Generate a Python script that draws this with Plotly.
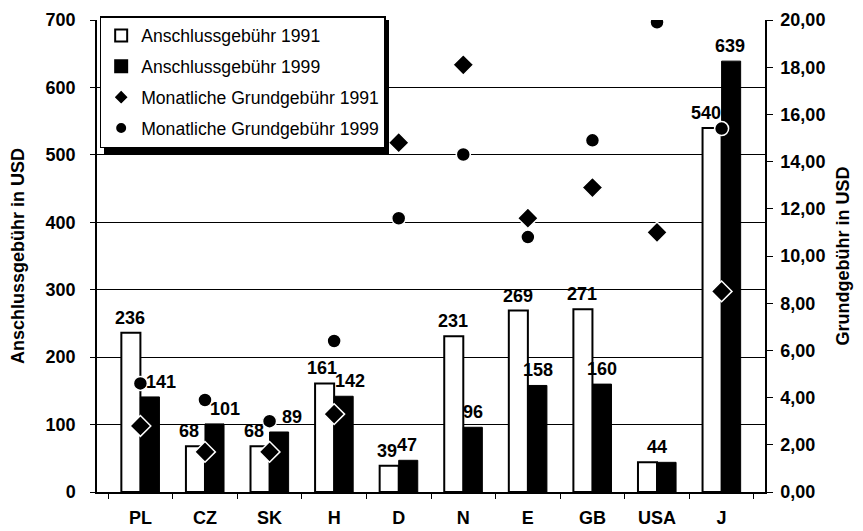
import plotly.graph_objects as go

# Data
countries = ['PL', 'CZ', 'SK', 'H', 'D', 'N', 'E', 'GB', 'USA', 'J']
anschluss_1991 = [236, 68, 68, 161, 39, 231, 269, 271, 44, 540]
anschluss_1999 = [141, 101, 89, 142, 47, 96, 158, 160, 44, 639]
labels_1991 = ['236', '68', '68', '161', '39', '231', '269', '271', '44', '540']
labels_1999 = ['141', '101', '89', '142', '47', '96', '158', '160', '', '639']
grund_1991 = [2.8, 1.7, 1.7, 3.3, 14.8, 18.1, 11.6, 12.9, 11.0, 8.5]
grund_1999 = [4.6, 3.9, 3.0, 6.4, 11.6, 14.3, 10.8, 14.9, 19.9, 15.4]

# label nudges in pixels (style only), Excel-like hand placement
shift_1991 = [-10, -16, -16, -12, -12, -10, -10, -10, 0, -16]
shift_1999 = [21, 20, 22, 16, 8, 10, 10, 10, 10, 8]

FONT = 'Arial, Liberation Sans, sans-serif'

# page body has an 8px margin, so the figure is drawn 8px smaller
W, H = 855, 523
ML, MR, MT, MB = 89, 98, 12, 39
PW, PH = W - ML - MR, H - MT - MB

fig = go.Figure()

fig.add_trace(go.Bar(
    x=countries, y=anschluss_1991,
    name='Anschlussgebühr 1991',
    marker=dict(color='white', line=dict(color='black', width=2)),
    legendgroup='a'
))
fig.add_trace(go.Bar(
    x=countries, y=anschluss_1999,
    name='Anschlussgebühr 1999',
    marker=dict(color='black', line=dict(color='black', width=1)),
    legendgroup='b'
))
fig.add_trace(go.Scatter(
    x=countries, y=grund_1991, yaxis='y2',
    mode='markers',
    name='Monatliche Grundgebühr 1991',
    marker=dict(symbol='diamond', size=16, color='black',
                line=dict(color='white', width=1.5)),
    legendgroup='c'
))
fig.add_trace(go.Scatter(
    x=countries, y=grund_1999, yaxis='y2',
    mode='markers',
    name='Monatliche Grundgebühr 1999',
    marker=dict(symbol='circle', size=14, color='black',
                line=dict(color='white', width=1.5)),
    legendgroup='d'
))

# data labels
for c, v, t, s in zip(countries, anschluss_1991, labels_1991, shift_1991):
    if t:
        fig.add_annotation(x=c, y=v, text=t, showarrow=False, xshift=s,
                           yanchor='bottom', yshift=3,
                           font=dict(size=18, family=FONT, weight='bold'))
for c, v, t, s in zip(countries, anschluss_1999, labels_1999, shift_1999):
    if t:
        fig.add_annotation(x=c, y=v, text=t, showarrow=False, xshift=s,
                           yanchor='bottom', yshift=3,
                           font=dict(size=18, family=FONT, weight='bold'))

# legend drop shadow (pixel offsets inside the plot area)
fig.add_shape(type='rect', xref='paper', yref='paper',
              x0=7 / PW, x1=292 / PW,
              y0=1 - 134 / PH, y1=1 - 0 / PH,
              fillcolor='black', line=dict(width=0), layer='above')

fig.update_layout(
    width=W, height=H,
    margin=dict(l=ML, r=MR, t=MT, b=MB, autoexpand=False),
    plot_bgcolor='white',
    paper_bgcolor='white',
    font=dict(family=FONT, size=18, color='black'),
    separators=',.',
    barmode='group',
    bargap=0.41,
    bargroupgap=0,
    showlegend=True,
    legend=dict(
        x=0.004, y=1 + 4 / PH, xanchor='left', yanchor='top',
        bgcolor='white', bordercolor='black', borderwidth=1.5,
        font=dict(size=17.6, family=FONT),
        tracegroupgap=5, traceorder='grouped',
        itemwidth=30, itemsizing='constant'
    ),
    xaxis=dict(
        automargin=False,
        showline=True, linecolor='black', linewidth=1.5,
        ticks='outside', tickson='boundaries', ticklen=5, tickcolor='black',
        ticklabelstandoff=9,
        tickfont=dict(size=18, family=FONT, weight='bold'),
        showgrid=False,
    ),
    yaxis=dict(
        automargin=False,
        range=[0, 700], dtick=100,
        showline=True, linecolor='black', linewidth=1.5,
        ticks='outside', ticklen=5, tickcolor='black',
        ticklabelstandoff=11,
        showgrid=True, gridcolor='black', gridwidth=1,
        zeroline=False,
        tickfont=dict(size=18, family=FONT, weight='bold'),
        title=dict(text='Anschlussgebühr in USD',
                   font=dict(size=18, weight='bold'), standoff=17),
    ),
    yaxis2=dict(
        automargin=False,
        range=[0, 20], dtick=2, tickformat='.2f',
        overlaying='y', side='right',
        showline=True, linecolor='black', linewidth=1.5,
        ticks='outside', ticklen=6, tickcolor='black',
        ticklabelstandoff=4,
        showgrid=False, zeroline=False,
        tickfont=dict(size=18, family=FONT, weight='bold'),
        title=dict(text='Grundgebühr in USD',
                   font=dict(size=18, weight='bold'), standoff=12),
    ),
)

fig.write_html("out.html")
